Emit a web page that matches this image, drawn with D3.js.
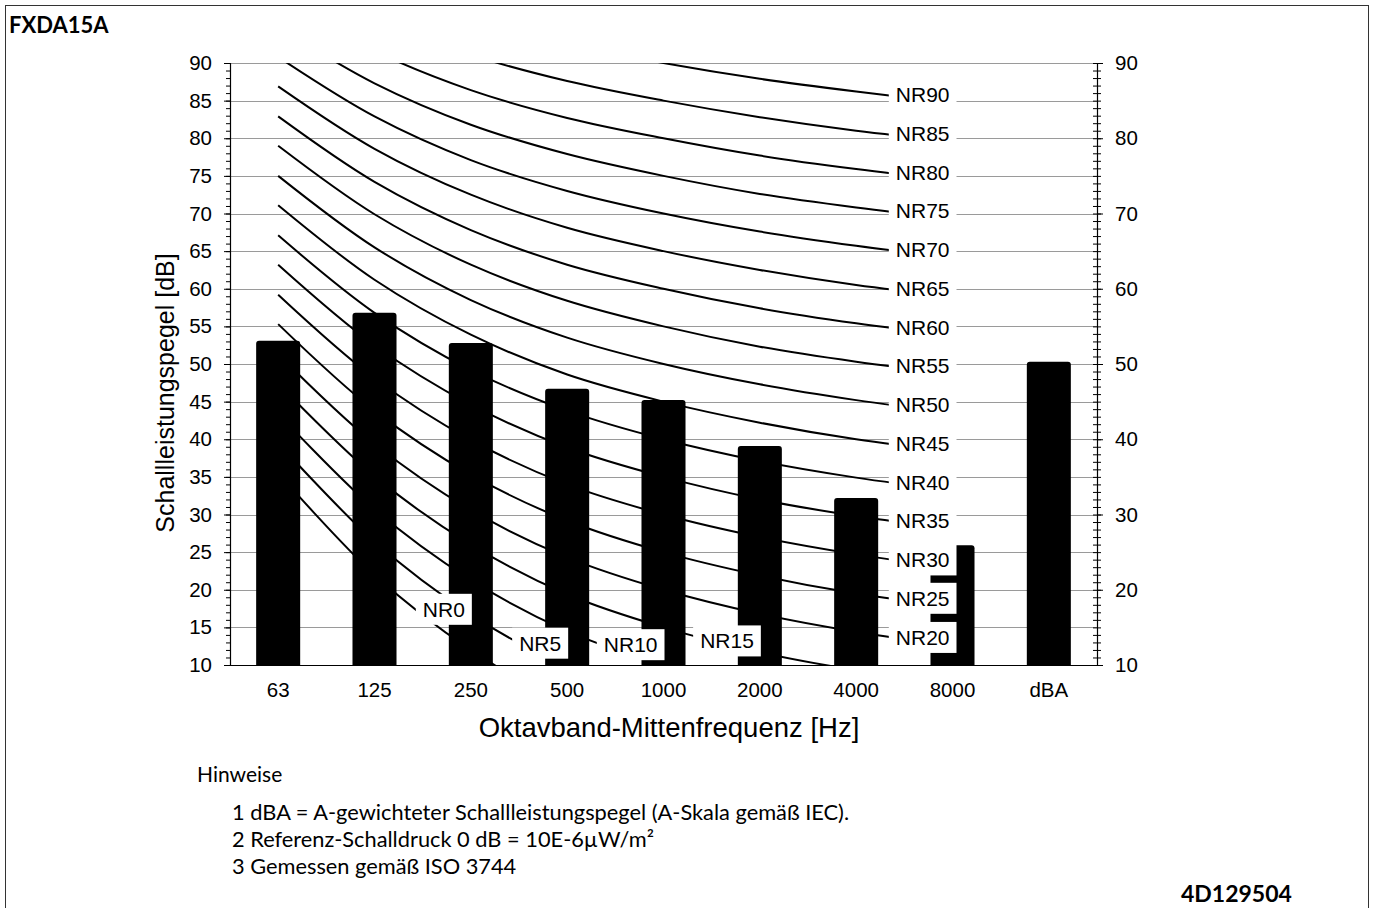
<!DOCTYPE html>
<html><head><meta charset="utf-8">
<script src="https://cdn.jsdelivr.net/npm/d3@7"></script>
<style>
html,body{margin:0;padding:0;background:#fff;}
svg{display:block;}
</style></head><body>
<svg id="chart" width="1375" height="908"></svg>
<script>
// ---------- data ----------
const categories = ["63","125","250","500","1000","2000","4000","8000","dBA"];
const soundPower = [53.1, 56.8, 52.8, 46.7, 45.2, 39.1, 32.2, 25.9, 50.3];
const nrFrequencies = ["63","125","250","500","1000","2000","4000","8000"];
const nrNames = ["NR0","NR5","NR10","NR15","NR20","NR25","NR30","NR35","NR40","NR45","NR50","NR55","NR60","NR65","NR70","NR75","NR80","NR85","NR90"];
const nr0  = [35.5, 22.0, 12.0, 4.8, 0.0, -3.5, -6.1, -8.0];
const nr5  = [39.5, 26.4, 16.7, 9.7, 5.0, 1.6, -1.0, -2.9];
const nr10 = [43.4, 30.7, 21.3, 14.5, 10.0, 6.7, 4.2, 2.3];
const nr15 = [47.4, 35.1, 26.0, 19.4, 15.0, 11.7, 9.3, 7.5];
const nr20 = [51.3, 39.4, 30.6, 24.3, 20.0, 16.8, 14.4, 12.6];
const nr25 = [55.3, 43.8, 35.3, 29.2, 25.0, 21.9, 19.5, 17.8];
const nr30 = [59.2, 48.1, 39.9, 34.0, 30.0, 27.0, 24.7, 22.9];
const nr35 = [63.2, 52.5, 44.6, 38.9, 35.0, 32.0, 29.8, 28.1];
const nr40 = [67.1, 56.8, 49.2, 43.8, 40.0, 37.1, 34.9, 33.2];
const nr45 = [71.1, 61.2, 53.9, 48.6, 45.0, 42.2, 40.0, 38.4];
const nr50 = [75.0, 65.5, 58.5, 53.5, 50.0, 47.3, 45.2, 43.5];
const nr55 = [79.0, 69.9, 63.2, 58.4, 55.0, 52.3, 50.3, 48.7];
const nr60 = [82.9, 74.2, 67.8, 63.2, 60.0, 57.4, 55.4, 53.8];
const nr65 = [86.9, 78.6, 72.5, 68.1, 65.0, 62.5, 60.5, 59.0];
const nr70 = [90.8, 82.9, 77.1, 73.0, 70.0, 67.6, 65.7, 64.1];
const nr75 = [94.8, 87.3, 81.8, 77.9, 75.0, 72.6, 70.8, 69.3];
const nr80 = [98.7, 91.6, 86.4, 82.7, 80.0, 77.7, 75.9, 74.4];
const nr85 = [102.7, 96.0, 91.1, 87.6, 85.0, 82.8, 81.0, 79.6];
const nr90 = [106.6, 100.3, 95.7, 92.5, 90.0, 87.9, 86.2, 84.7];
const nrSeries = [nr0,nr5,nr10,nr15,nr20,nr25,nr30,nr35,nr40,nr45,nr50,nr55,nr60,nr65,nr70,nr75,nr80,nr85,nr90];
// labels of curves that leave the chart before 8000 Hz
const lowLabelNames = ["NR0","NR5","NR10","NR15"];
const lowLabelCats = ["250","500","1000","2000"];
const lowLabelLevels = [17.4, 12.9, 12.7, 13.2];
const leftTicks = [10,15,20,25,30,35,40,45,50,55,60,65,70,75,80,85,90];
const rightTicks = [10,20,30,40,50,60,70,80,90];
const chartTitle = "FXDA15A";
const yTitle = "Schallleistungspegel [dB]";
const xTitle = "Oktavband-Mittenfrequenz [Hz]";
const notesHeader = "Hinweise";
const notes = ["1 dBA = A-gewichteter Schallleistungspegel (A-Skala gemäß IEC).",
               "2 Referenz-Schalldruck 0 dB = 10E-6\u00b5W/m\u00b2",
               "3 Gemessen gemäß ISO 3744"];
const docCode = "4D129504";

// ---------- layout ----------
const svg = d3.select("#chart");
const L = 230, R = 1097, T = 63, B = 665;
const ARIAL = "'Liberation Sans', Arial, sans-serif";
const CAL = "Lato, 'Open Sans', sans-serif";

const x = d3.scaleBand().domain(categories).range([L, R]).paddingInner(0.543).paddingOuter(0.2715);
const xc = c => x(c) + x.bandwidth() / 2;
const y = d3.scaleLinear().domain([10, 90]).range([B, T]);

// outer frame
svg.append("rect").attr("x", 5.5).attr("y", 5.5).attr("width", 1363).attr("height", 1000)
  .attr("fill", "none").attr("stroke", "#333").attr("stroke-width", 1);

svg.append("text").attr("x", 9).attr("y", 33).text(chartTitle)
  .attr("font-family", CAL).attr("font-weight", "bold").attr("font-size", 22).attr("fill", "#000");

// gridlines
svg.append("g").selectAll("line").data(leftTicks).join("line")
  .attr("x1", L).attr("x2", R)
  .attr("y1", d => Math.round(y(d)) + 0.5).attr("y2", d => Math.round(y(d)) + 0.5)
  .attr("stroke", "#9a9a9a").attr("stroke-width", 1.2);

// clip
svg.append("clipPath").attr("id", "plotclip").append("rect")
  .attr("x", L).attr("y", T).attr("width", R - L).attr("height", B - T);

// NR curves
const line = d3.line()
  .x((d, i) => xc(nrFrequencies[i]))
  .y(d => y(d))
  .curve(d3.curveCatmullRom.alpha(0.5));
svg.append("g").attr("clip-path", "url(#plotclip)")
  .selectAll("path").data(nrSeries).join("path")
  .attr("d", d => line(d)).attr("fill", "none").attr("stroke", "#000").attr("stroke-width", 2);

// bars
function barPath(x0, y0, w, h, r) {
  return `M${x0},${y0 + h}V${y0 + r}Q${x0},${y0} ${x0 + r},${y0}H${x0 + w - r}Q${x0 + w},${y0} ${x0 + w},${y0 + r}V${y0 + h}Z`;
}
svg.append("g").selectAll("path").data(categories).join("path")
  .attr("d", (c, i) => barPath(x(c), y(soundPower[i]), x.bandwidth(), B - y(soundPower[i]), 3))
  .attr("fill", "#000");

// NR labels
const labelData = [];
nrNames.forEach((n, i) => {
  const v = nrSeries[i][7];
  if (v >= 10) labelData.push({ name: n, right: xc("8000") + 4, cy: y(v) - 8 });
});
lowLabelNames.forEach((n, i) => {
  labelData.push({ name: n, right: xc(lowLabelCats[i]) + 1, cy: y(lowLabelLevels[i]) });
});
const lg = svg.append("g").selectAll("g").data(labelData).join("g");
lg.append("text").attr("class", "nrl")
  .attr("x", d => d.right - 7).attr("y", d => d.cy).attr("dy", "0.36em")
  .attr("text-anchor", "end").attr("font-family", ARIAL).attr("font-size", 21)
  .text(d => d.name);
lg.each(function (d) {
  const t = d3.select(this).select("text");
  const w = t.node().getComputedTextLength();
  d3.select(this).insert("rect", "text")
    .attr("x", d.right - w - 14).attr("y", d.cy - 15.5)
    .attr("width", w + 14).attr("height", 31).attr("fill", "#fff");
});

// left axis
svg.append("g").attr("transform", `translate(${L},0)`)
  .call(d3.axisLeft(y).tickValues(leftTicks).tickSize(6).tickPadding(12).tickFormat(d3.format("d")));
svg.append("g").attr("transform", `translate(${L},0)`)
  .call(d3.axisLeft(y).tickValues(d3.range(10, 91)).tickSize(4).tickFormat(""))
  .call(g => g.select(".domain").remove());
// right axis
svg.append("g").attr("transform", `translate(${R},0)`)
  .call(d3.axisRight(y).tickValues(rightTicks).tickSize(6).tickPadding(12).tickFormat(d3.format("d")));
svg.append("g").attr("transform", `translate(${R},0)`)
  .call(d3.axisRight(y).tickValues(d3.range(10, 91)).tickSize(4).tickFormat(""))
  .call(g => g.select(".domain").remove())
  .call(g => g.selectAll(".tick line").attr("x1", -4));
// bottom axis
svg.append("g").attr("transform", `translate(0,${B})`)
  .call(d3.axisBottom(x).tickSize(0).tickPadding(17))
  .call(g => g.select(".domain").attr("d", `M${L},0.5H${R}`));

svg.selectAll(".tick text").attr("font-family", ARIAL).attr("font-size", 20.5).attr("fill", "#000");
svg.selectAll(".domain").attr("stroke", "#000").attr("stroke-width", 1.2);
svg.selectAll(".tick line").attr("stroke", "#000");

// axis titles
svg.append("text").attr("transform", `translate(174,393) rotate(-90)`)
  .attr("text-anchor", "middle").attr("font-family", ARIAL).attr("font-size", 25).text(yTitle);
svg.append("text").attr("x", 669).attr("y", 737)
  .attr("text-anchor", "middle").attr("font-family", ARIAL).attr("font-size", 27.5).text(xTitle);

// notes
svg.append("text").attr("x", 197).attr("y", 782).attr("font-family", CAL).attr("font-size", 21).text(notesHeader);
svg.append("g").selectAll("text").data(notes).join("text")
  .attr("x", 232).attr("y", (d, i) => 820 + i * 27)
  .attr("font-family", CAL).attr("font-size", 21.8).text(d => d);
svg.append("text").attr("x", 1181).attr("y", 902).attr("font-family", CAL)
  .attr("font-weight", "bold").attr("font-size", 23).text(docCode);
</script>
</body></html>
